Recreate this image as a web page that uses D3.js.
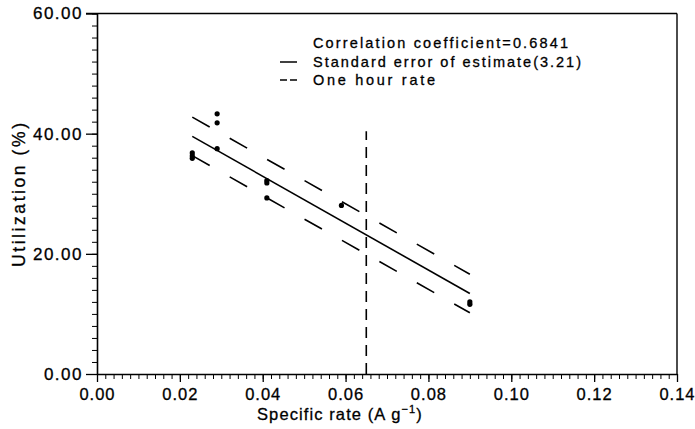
<!DOCTYPE html>
<html><head><meta charset="utf-8">
<script src="https://cdn.jsdelivr.net/npm/d3@7"></script>
<style>
body{margin:0;background:#fff;}
svg{display:block;font-family:"Liberation Sans",Arial,sans-serif;}
text{stroke:#000;stroke-width:0.3px;}
</style></head>
<body><svg id="c" width="695" height="429"></svg>
<script>
// ---- data ----
const xMajorTicks = [0, 0.02, 0.04, 0.06, 0.08, 0.10, 0.12, 0.14];
const xTickLabels = ["0.00","0.02","0.04","0.06","0.08","0.10","0.12","0.14"];
const yMajorTicks = [0, 20, 40, 60];
const yTickLabels = ["0.00","20.00","40.00","60.00"];
const pointX = [0.023,0.023,0.023,0.029,0.029,0.029,0.041,0.041,0.041,0.059,0.090,0.090];
const pointY = [35.9,36.3,36.8,43.3,41.8,37.5,32.2,31.8,29.3,28.05,12.0,11.6];
const fitX = [0.023, 0.090];
const fitY = [39.55, 13.4];
const stdError = 3.21;
const oneHourRateX = 0.065;
const oneHourRateY = [0, 40.4];
const legendLines = ["Correlation coefficient=0.6841","Standard error of estimate(3.21)","One hour rate"];

// ---- chart ----
const svg = d3.select("#c");
const x = d3.scaleLinear().domain([0, 0.14]).range([97, 677]);
const y = d3.scaleLinear().domain([0, 60]).range([374, 13.5]);

// frame (top/right)
svg.append("line").attr("x1",x(0)-11).attr("x2",x(0.14)).attr("y1",y(60)).attr("y2",y(60)).attr("stroke","#000").attr("stroke-width",1.6);
svg.append("line").attr("x1",x(0.14)).attr("x2",x(0.14)).attr("y1",y(60)).attr("y2",y(0)).attr("stroke","#000").attr("stroke-width",1.4);

// x axis
const xMinor = d3.range(0, 0.14001, 0.002);
svg.append("g").attr("transform",`translate(0,${y(0)})`)
  .call(d3.axisBottom(x).tickValues(xMinor).tickSize(5).tickFormat("").tickSizeOuter(0))
  .call(g=>g.select(".domain").attr("stroke-width",1.6));
svg.append("g").attr("transform",`translate(0,${y(0)})`)
  .call(d3.axisBottom(x).tickValues(xMajorTicks).tickSize(8).tickSizeOuter(0).tickPadding(6)
    .tickFormat((d,i)=>xTickLabels[i]))
  .call(g=>g.select(".domain").remove())
  .call(g=>g.selectAll("line").attr("stroke-width",1.3))
  .call(g=>g.selectAll("text").attr("font-size",16.5).attr("letter-spacing","1px").attr("fill","#000")
      .attr("font-family","Liberation Sans, Arial, sans-serif").attr("dy",null).attr("y",null)
      .attr("transform","translate(0,26)"));

// y axis
const yMinor = d3.range(0, 60.001, 2);
svg.append("g").attr("transform",`translate(${x(0)},0)`)
  .call(d3.axisLeft(y).tickValues(yMinor).tickSize(5).tickFormat("").tickSizeOuter(0))
  .call(g=>g.select(".domain").attr("stroke-width",1.6));
svg.append("g").attr("transform",`translate(${x(0)},0)`)
  .call(d3.axisLeft(y).tickValues(yMajorTicks).tickSize(11).tickSizeOuter(0).tickPadding(3)
    .tickFormat((d,i)=>yTickLabels[i]))
  .call(g=>g.select(".domain").remove())
  .call(g=>g.selectAll("line").attr("stroke-width",1.3))
  .call(g=>g.selectAll("text").attr("font-size",17).attr("letter-spacing","1.5px").attr("fill","#000")
      .attr("font-family","Liberation Sans, Arial, sans-serif"));

// axis titles
const xt = svg.append("text").attr("x",257).attr("y",420).attr("font-size",16.5).attr("letter-spacing","1.1px").attr("fill","#000");
xt.append("tspan").text("Specific rate (A g");
xt.append("tspan").attr("font-size",11).attr("dy",-7).text("−1");
xt.append("tspan").attr("dy",7).text(")");
svg.append("text").attr("transform","translate(25,195) rotate(-90)").attr("text-anchor","middle")
  .attr("font-size",17.5).attr("textLength",144).attr("lengthAdjust","spacing").attr("fill","#000").text("Utilization (%)");

// fit line & std error lines
const line = d3.line().x(d=>x(d[0])).y(d=>y(d[1]));
const fitPts = fitX.map((v,i)=>[v, fitY[i]]);
svg.append("path").attr("d",line(fitPts)).attr("fill","none").attr("stroke","#000").attr("stroke-width",1.6);
[stdError, -stdError].forEach(off=>{
  svg.append("path").attr("d",line(fitPts.map(p=>[p[0],p[1]+off]))).attr("fill","none")
    .attr("stroke","#000").attr("stroke-width",1.6).attr("stroke-dasharray","20,23");
});
// one hour rate vertical line
svg.append("path").attr("d",line(oneHourRateY.map(v=>[oneHourRateX,v]))).attr("fill","none")
  .attr("stroke","#000").attr("stroke-width",1.6).attr("stroke-dasharray","11,7");

// points
svg.append("g").selectAll("circle").data(pointX.map((v,i)=>[v,pointY[i]])).join("circle")
  .attr("cx",d=>x(d[0])).attr("cy",d=>y(d[1])).attr("r",2.6).attr("fill","#000");

// legend
const lg = svg.append("g").attr("fill","#000").attr("font-size",14.5);
const lgX = 313, lgY = [48, 67, 85], lgLen = [255, 268, 122];
legendLines.forEach((t,i)=>{
  lg.append("text").attr("x",lgX).attr("y",lgY[i]).attr("textLength",lgLen[i]).attr("lengthAdjust","spacing").text(t);
});
svg.append("line").attr("x1",280).attr("x2",297).attr("y1",62).attr("y2",62).attr("stroke","#000").attr("stroke-width",1.5);
svg.append("line").attr("x1",280).attr("x2",297).attr("y1",80).attr("y2",80).attr("stroke","#000").attr("stroke-width",1.5).attr("stroke-dasharray","7,3");
</script></body></html>
